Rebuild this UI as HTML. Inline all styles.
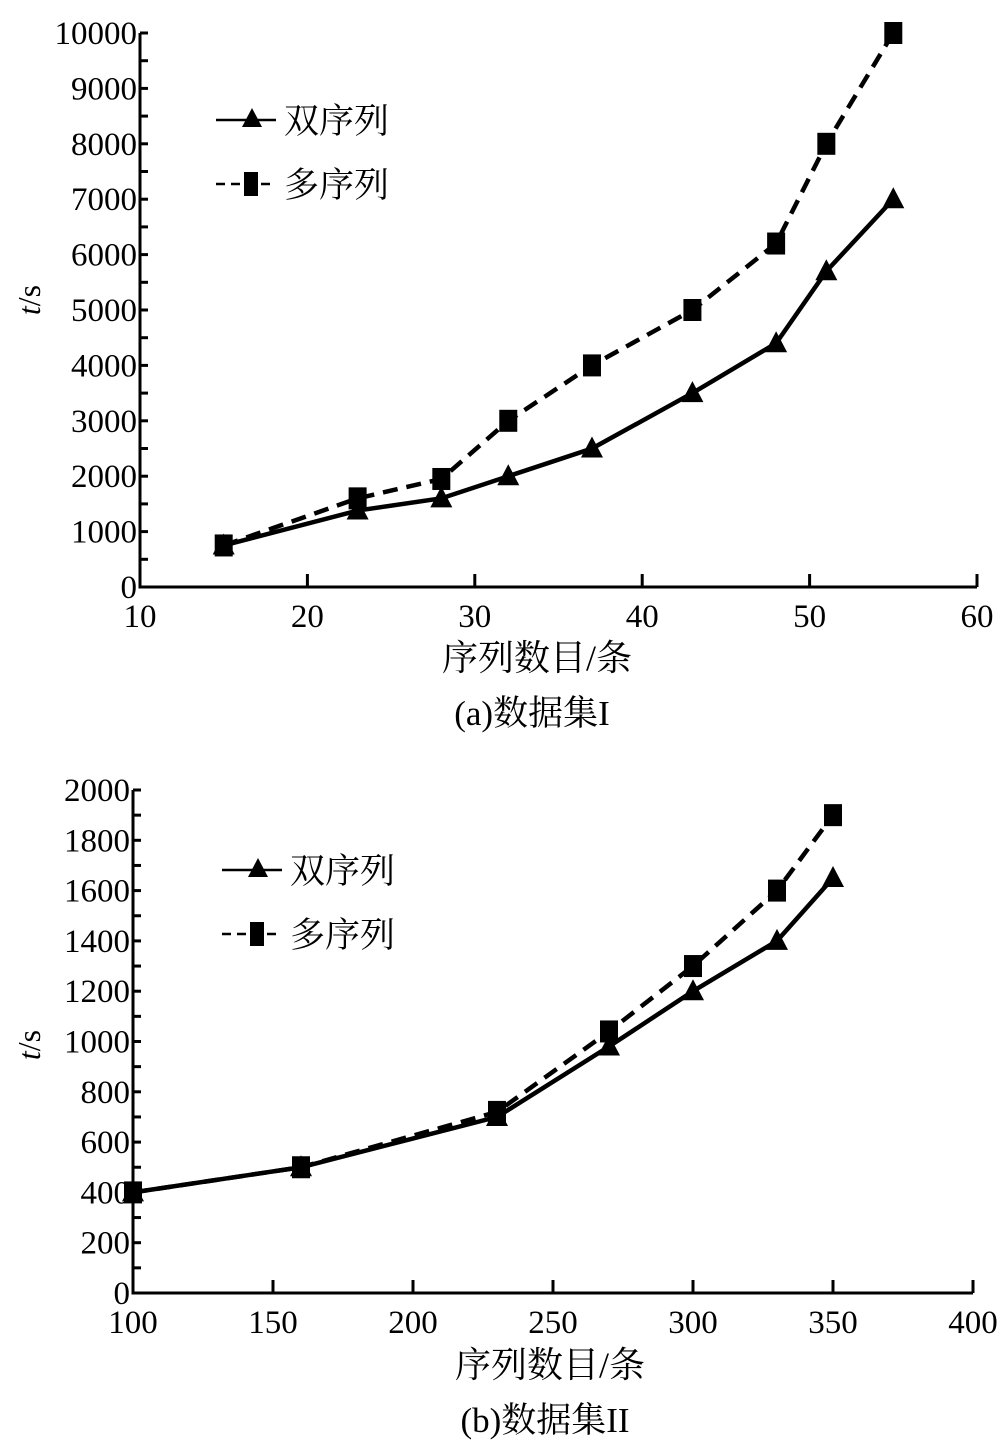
<!DOCTYPE html>
<html><head><meta charset="utf-8">
<style>
body{margin:0;background:#fff}
svg text{font-family:"Liberation Serif","Noto Serif CJK SC",serif;fill:#000}
</style></head><body>
<svg id="s" width="1000" height="1444" viewBox="0 0 1000 1444" xmlns="http://www.w3.org/2000/svg"></svg>
<script>
const topX=[15,23,28,32,37,43,48,51,55];
const topDouble=[750,1380,1600,2000,2500,3500,4400,5700,7000];
const topMulti=[750,1600,1950,3000,4000,5000,6200,8000,10000];
const topXTicks=[10,20,30,40,50,60];
const topYTicks=[0,1000,2000,3000,4000,5000,6000,7000,8000,9000,10000];
const botX=[100,160,230,270,300,330,350];
const botDouble=[400,500,700,980,1200,1400,1650];
const botMulti=[400,500,720,1040,1300,1600,1900];
const botXTicks=[100,150,200,250,300,350,400];
const botYTicks=[0,200,400,600,800,1000,1200,1400,1600,1800,2000];
const NS="http://www.w3.org/2000/svg";
const svg=document.getElementById('s');
function mk(t,a,p){const e=document.createElementNS(NS,t);for(const k in a)e.setAttribute(k,a[k]);(p||svg).appendChild(e);return e;}
function chart(o){
  const g=mk('g',{});
  
  
  const sx=v=>o.x0+(v-o.xmin)/(o.xmax-o.xmin)*(o.x1-o.x0);
  const sy=v=>o.y0-(v-o.ymin)/(o.ymax-o.ymin)*(o.y0-o.y1);
  const ax=mk('path',{d:`M${o.x0} ${o.y1}V${o.y0}H${o.xend}`,stroke:'#000','stroke-width':3,fill:'none'},g);
  
  
  o.yt.forEach((v,i)=>{
    const y=sy(v);
    mk('line',{x1:o.x0,x2:o.x0+8,y1:y,y2:y,stroke:'#000','stroke-width':3},g);
    if(i<o.yt.length-1){const ym=sy(v+(o.yt[1]-o.yt[0])/2);mk('line',{x1:o.x0,x2:o.x0+8,y1:ym,y2:ym,stroke:'#000','stroke-width':3},g);}
    const t=mk('text',{x:o.x0-3,y:y+11,'text-anchor':'end','font-size':33},g);t.textContent=v;
    
    
  });
  o.xt.forEach(v=>{
    const x=sx(v);
    if(v!==o.xmin)mk('line',{x1:x,x2:x,y1:o.y0,y2:o.y0-13,stroke:'#000','stroke-width':3},g);
    const t=mk('text',{x:x,y:o.y0+40,'text-anchor':'middle','font-size':33},g);t.textContent=v;
    
    
  });
  const yl=mk('text',{x:0,y:0,'font-size':32,transform:`translate(${o.ylx},${o.yly}) rotate(-90)`,'text-anchor':'middle'},g);
  yl.innerHTML='<tspan font-style="italic">t</tspan>/s';
  
  
  const xl=mk('text',{x:o.xlx,y:o.xly,'font-size':36,'text-anchor':'middle'},g);xl.textContent='序列数目/条';
  
  
  const cap=mk('text',{x:o.xlx-5,y:o.xly+55,'font-size':35,'text-anchor':'middle'},g);cap.textContent=o.cap;
  
  
  const pm=o.xs.map((v,i)=>`${i?'L':'M'}${sx(v)} ${sy(o.m[i])}`).join('');
  const lm=mk('path',{d:pm,stroke:'#000','stroke-width':4.5,fill:'none','stroke-dasharray':'15 9'},g);
  
  
  const pd=o.xs.map((v,i)=>`${i?'L':'M'}${sx(v)} ${sy(o.d[i])}`).join('');
  const ld=mk('path',{d:pd,stroke:'#000','stroke-width':4.5,fill:'none'},g);
  
  
  o.xs.forEach((v,i)=>{
    const x=sx(v),y=sy(o.m[i]);
    const r=mk('rect',{x:x-9,y:y-11,width:18,height:22,fill:'#000'},g);
    
    
    const y2=sy(o.d[i]);
    const p=mk('path',{d:`M${x} ${y2-12}L${x+11} ${y2+9}L${x-11} ${y2+9}Z`,fill:'#000'},g);
    
    
  });
  const lg=mk('g',{},g);
  
  
  const lx=o.lx,ly=o.ly;
  mk('line',{x1:lx,x2:lx+60,y1:ly,y2:ly,stroke:'#000','stroke-width':2.5},lg);
  mk('path',{d:`M${lx+36} ${ly-12}L${lx+46} ${ly+7}L${lx+26} ${ly+7}Z`,fill:'#000'},lg);
  const t1=mk('text',{x:lx+68,y:ly+13,'font-size':35},lg);t1.textContent='双序列';
  mk('line',{x1:lx,x2:lx+60,y1:ly+64,y2:ly+64,stroke:'#000','stroke-width':2.5,'stroke-dasharray':'9 6'},lg);
  mk('rect',{x:lx+28,y:ly+52,width:14,height:24,fill:'#000'},lg);
  const t2=mk('text',{x:lx+68,y:ly+77,'font-size':35},lg);t2.textContent='多序列';
}
chart({name:'chart-dataset-1',x0:140,x1:977,xend:977,y0:587,y1:33,xmin:10,xmax:60,ymin:0,ymax:10000,
  xt:topXTicks,yt:topYTicks,xs:topX,d:topDouble,m:topMulti,ylx:40,yly:300,xlx:537,xly:670,cap:'(a)数据集I',lx:216,ly:120});
chart({name:'chart-dataset-2',x0:133,x1:973,xend:973,y0:1293,y1:790,xmin:100,xmax:400,ymin:0,ymax:2000,
  xt:botXTicks,yt:botYTicks,xs:botX,d:botDouble,m:botMulti,ylx:40,yly:1045,xlx:550,xly:1377,cap:'(b)数据集II',lx:222,ly:870});
</script>
</body></html>
